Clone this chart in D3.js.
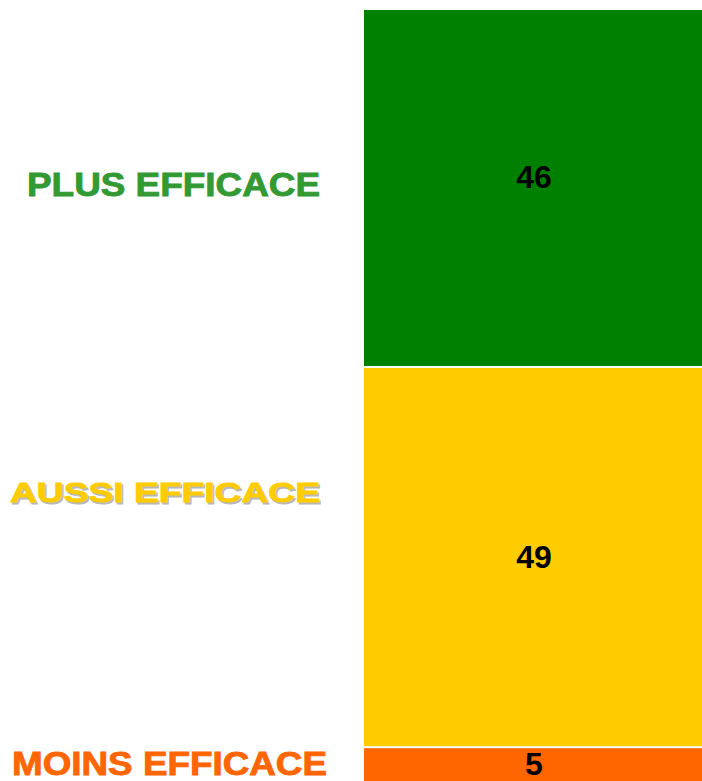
<!DOCTYPE html>
<html>
<head>
<meta charset="utf-8">
<script src="https://cdn.jsdelivr.net/npm/d3@7"></script>
<style>
  body { margin: 0; background: #fff; }
  svg { display: block; font-family: "Liberation Sans", Arial, sans-serif; font-weight: bold; }
</style>
</head>
<body>
<svg></svg>
<script>
/*
*  DATA
*/
let categories = ['PLUS EFFICACE', 'AUSSI EFFICACE', 'MOINS EFFICACE']
let values = [46, 49, 5]
let fills = ['#008000', '#ffcc00', '#ff6600']
let labelColors = ['#339933', '#ffcc00', '#ff6600']

/*
*  RUN
*/
let width = 702,
    height = 781

let svg = d3.select('svg').attr('width', width).attr('height', height)

let row = {}
categories.forEach((c, i) => row[c] = values[i])
let series = d3.stack().keys(categories)([row])

let x = d3.scaleBand().domain(['total']).range([364, width]).padding(0)
let y = d3.scaleLinear().domain([0, d3.sum(values)]).range([10, 786])

// bar segments, a 2px white gap between them
svg.selectAll('rect.seg')
  .data(series)
  .enter()
  .append('rect')
  .attr('class', 'seg')
  .attr('x', x('total'))
  .attr('width', x.bandwidth())
  .attr('y', (s, i) => y(s[0][0]) + (i ? 1 : 0))
  .attr('height', (s, i) => y(s[0][1]) - y(s[0][0]) - (i ? 1 : 0) - 1)
  .attr('fill', (s, i) => fills[i])

// values inside segments
let valueDy = [0, 11, 8.5]
svg.selectAll('text.val')
  .data(series)
  .enter()
  .append('text')
  .attr('class', 'val')
  .attr('x', x('total') + x.bandwidth() / 2 + 1)
  .attr('y', (s, i) => (y(s[0][0]) + y(s[0][1])) / 2 + valueDy[i])
  .attr('text-anchor', 'middle')
  .attr('font-size', 32)
  .attr('fill', '#000')
  .text((s, i) => values[i])

// category labels on the left (stretched wide like the original)
let labelDy = [8, -55, 8.5],
    labelX = [27, 10, 12],
    labelLen = [293, 310, 315],
    labelSize = [34, 28, 34]

let labels = svg.selectAll('g.lab')
  .data(series)
  .enter()
  .append('g')
  .attr('class', 'lab')

// grey shadow only under the yellow one
labels.filter((s, i) => i === 1)
  .append('text')
  .attr('x', labelX[1] + 1.5)
  .attr('y', s => (y(s[0][0]) + y(s[0][1])) / 2 + labelDy[1] + 1.5)
  .attr('textLength', labelLen[1])
  .attr('lengthAdjust', 'spacingAndGlyphs')
  .attr('font-size', labelSize[1])
  .attr('fill', '#b8b8b8')
  .attr('stroke', '#b8b8b8')
  .attr('stroke-width', 0.9)
  .text(categories[1])

// a thin stroke thickens the stretched glyphs a bit
labels.append('text')
  .attr('x', (s, i) => labelX[i])
  .attr('y', (s, i) => (y(s[0][0]) + y(s[0][1])) / 2 + labelDy[i])
  .attr('textLength', (s, i) => labelLen[i])
  .attr('lengthAdjust', 'spacingAndGlyphs')
  .attr('font-size', (s, i) => labelSize[i])
  .attr('fill', (s, i) => labelColors[i])
  .attr('stroke', (s, i) => labelColors[i])
  .attr('stroke-width', 0.9)
  .text(s => s.key)
</script>
</body>
</html>
